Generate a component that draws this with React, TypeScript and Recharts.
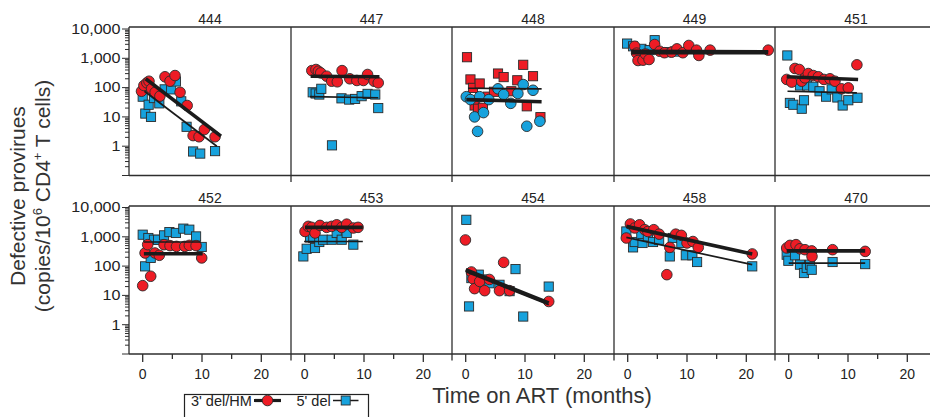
import React from 'react';
import { ScatterChart, Scatter, XAxis, YAxis, ReferenceLine } from 'recharts';

type Pt = [number, number];

// ---------- categories / labels ----------
const PATIENTS = ['444', '447', '448', '449', '451', '452', '453', '454', '458', '470'];
const SERIES_NAMES = ["3' del/HM", "5' del"];
const X_TICKS = [0, 5, 10, 15, 20];
const X_TICK_LABELS = [0, 10, 20];
const Y_TICKS = [
  0.1, 0.2, 0.3, 0.4, 0.5, 0.6, 0.7, 0.8, 0.9,
  1, 2, 3, 4, 5, 6, 7, 8, 9,
  10, 20, 30, 40, 50, 60, 70, 80, 90,
  100, 200, 300, 400, 500, 600, 700, 800, 900,
  1000, 2000, 3000, 4000, 5000, 6000, 7000, 8000, 9000,
  10000,
];
const Y_MAJOR = [0.1, 1, 10, 100, 1000, 10000];
const Y_TICK_LABELS: Record<string, string> = { '1': '1', '10': '10', '100': '100', '1000': '1,000', '10000': '10,000' };

// ---------- data: [months on ART, copies/10^6 CD4+ T cells] ----------
const del3_444: Pt[] = [[-0.2, 75], [0.2, 118], [0.7, 145], [1.06, 165], [1.5, 91], [2.1, 69], [2.9, 51], [3.76, 234], [4.6, 165], [5.45, 258], [6.3, 69], [7.5, 24.5], [8.5, 2.3], [9.5, 2.1], [10.4, 3.7], [12.2, 2.1]];
const del5_444: Pt[] = [[0, 49], [0.44, 13], [1.0, 26], [1.4, 10], [1.9, 44], [2.8, 29], [3.7, 87], [4.8, 87], [5.6, 162], [6.5, 34], [7.4, 4.6], [8.5, 0.66], [9.7, 0.56], [12.2, 0.68]];
const fit3_444: Pt[] = [[0.5, 200], [13.2, 2.2]];
const fit5_444: Pt[] = [[0.3, 75], [12.5, 1.0]];

const del3_447: Pt[] = [[1.2, 380], [1.9, 415], [2.3, 363], [2.7, 318], [3.7, 245], [4.55, 165], [5.5, 158], [6.3, 380], [7.6, 200], [8.8, 175], [9.9, 175], [10.6, 280], [11.7, 165], [12.4, 145]];
const del5_447: Pt[] = [[1.35, 69], [1.85, 63], [2.46, 58], [2.8, 91], [4.6, 1.07], [6.2, 43], [7.5, 39], [8.5, 41], [9.6, 51], [10.6, 61], [11.9, 58], [12.4, 20]];
const fit3_447: Pt[] = [[1.0, 245], [12.6, 234]];
const fit5_447: Pt[] = [[0.9, 49], [12.4, 45]];

const del3_448: Pt[] = [[0.1, 49], [0.8, 39], [1.5, 10], [2.0, 3.2], [2.36, 49], [3.0, 14], [3.9, 39], [5.45, 91], [6.4, 58], [7.6, 29], [8.8, 63], [9.7, 127], [10.3, 4.8], [11.35, 81], [12.5, 7.1]];
const del5_448: Pt[] = [[0.22, 1090], [0.8, 190], [1.23, 98], [2.36, 138], [1.5, 24.5], [2.07, 19], [2.9, 20.5], [3.76, 49], [4.77, 72], [5.45, 302], [6.4, 228], [7.7, 75], [8.7, 178], [9.7, 600], [10.3, 23], [11.35, 245], [12.6, 9.8]];
const fit3_448: Pt[] = [[0.1, 39], [12.8, 33]];
const fit5_448: Pt[] = [[0.4, 95], [12.8, 91]];

const del3_449: Pt[] = [[1.18, 2580], [1.5, 1500], [1.74, 840], [2.58, 865], [3.0, 1400], [3.6, 910], [4.55, 2950], [5.4, 1740], [6.2, 1550], [7.4, 1620], [8.3, 2100], [9.3, 1550], [10.3, 2740], [11.6, 1900], [12.0, 1250], [13.9, 1900], [23.7, 1900]];
const del5_449: Pt[] = [[-0.1, 3180], [0.9, 2570], [2.3, 2100], [3.7, 1900], [4.55, 4150], [6.5, 1620], [8.0, 1700]];
const fit3_449: Pt[] = [[0.6, 1550], [23.7, 1550]];
const fit5_449: Pt[] = [[0.6, 1850], [23.7, 1800]];

const del3_451: Pt[] = [[-0.34, 190], [0.5, 154], [1.06, 450], [1.79, 415], [2.2, 165], [2.75, 215], [3.3, 302], [4.15, 258], [5.0, 234], [5.95, 190], [6.96, 200], [7.8, 165], [8.9, 91], [10.05, 98], [11.5, 600]];
const del5_451: Pt[] = [[-0.23, 1250], [0.2, 30], [0.78, 26], [1.9, 118], [2.2, 19], [2.58, 37], [3.1, 118], [4.15, 107], [5.2, 75], [6.3, 49], [7.25, 87], [8.2, 46], [9.1, 24.5], [10.05, 37], [11.6, 45]];
const fit3_451: Pt[] = [[-0.34, 234], [11.7, 190]];
const fit5_451: Pt[] = [[-0.2, 75], [11.5, 66]];

const del3_452: Pt[] = [[0, 21.5], [0.4, 280], [0.84, 540], [1.35, 45], [2.07, 280], [2.8, 234], [3.6, 540], [4.6, 500], [5.7, 470], [7.1, 470], [7.86, 510], [9.0, 500], [9.95, 190]];
const del5_452: Pt[] = [[0, 1180], [0.4, 98], [0.95, 910], [1.35, 190], [1.9, 795], [2.6, 795], [3.6, 1120], [4.5, 1450], [5.6, 1350], [6.85, 1900], [7.86, 1750], [9.0, 1030], [9.95, 450]];
const fit3_452: Pt[] = [[0.2, 265], [10.1, 265]];
const fit5_452: Pt[] = [[0.2, 665], [9.8, 665]];

const del3_453: Pt[] = [[0.05, 1520], [0.6, 2270], [1.18, 2100], [1.74, 1350], [2.58, 2450], [3.7, 2100], [4.55, 2270], [5.4, 2570], [6.24, 2100], [7.08, 2700], [8.2, 2000], [9.0, 2100]];
const del5_453: Pt[] = [[-0.23, 214], [0.33, 390], [0.9, 950], [1.45, 910], [1.74, 415], [2.46, 665], [3.1, 795], [4.55, 795], [5.4, 1350], [6.24, 795], [7.08, 1350], [8.2, 540]];
const fit3_453: Pt[] = [[0.05, 2100], [9.8, 2100]];
const fit5_453: Pt[] = [[-0.1, 690], [9.8, 690]];

const del3_454: Pt[] = [[-0.05, 780], [0.96, 63], [1.23, 37], [1.5, 17], [2.36, 30], [3.2, 14.5], [4.0, 35], [5.7, 14.5], [6.4, 134], [7.4, 14.5], [14.0, 6.2]];
const del5_454: Pt[] = [[0.1, 3800], [0.56, 4.2], [0.96, 39], [2.2, 51], [2.9, 35], [4.0, 26], [5.7, 23], [7.4, 14], [8.4, 79], [9.7, 1.9], [14.0, 20]];
const fit3_454: Pt[] = [[0, 75], [14, 5.5]];
const fit5_454: Pt[] = [[0.1, 63], [14, 4.8]];

const del3_458: Pt[] = [[-0.23, 910], [0.45, 2740], [1.18, 2000], [2.0, 2570], [2.87, 1750], [3.4, 1520], [4.4, 1750], [5.3, 1230], [6.6, 51], [7.1, 435], [8.1, 1230], [9.05, 1120], [10.0, 615], [11.0, 690], [11.9, 435], [21.0, 260]];
const del5_458: Pt[] = [[-0.23, 1520], [0.9, 435], [1.18, 665], [2.3, 1180], [2.5, 615], [3.4, 1030], [4.27, 665], [5.3, 795], [7.1, 214], [7.6, 910], [9.05, 615], [9.8, 234], [10.9, 234], [11.7, 138], [21.0, 98]];
const fit3_458: Pt[] = [[-0.23, 2270], [21, 260]];
const fit5_458: Pt[] = [[-0.23, 950], [21, 112]];

const del3_470: Pt[] = [[-0.34, 415], [0.22, 510], [1.23, 540], [1.9, 390], [2.75, 363], [3.88, 330], [3.93, 214], [7.4, 363], [12.9, 318]];
const del5_470: Pt[] = [[-0.34, 245], [-0.06, 152], [1.06, 234], [1.9, 112], [2.58, 58], [3.04, 87], [3.6, 112], [3.88, 75], [7.4, 138], [12.9, 117]];
const fit3_470: Pt[] = [[-0.34, 330], [12.9, 330]];
const fit5_470: Pt[] = [[0, 127], [12.9, 127]];

// panel 448 is drawn with the colours exchanged
const COLOR_SWAPPED = ['448'];

const PANELS = [
  { id: PATIENTS[0], del3: del3_444, del5: del5_444, fit3: fit3_444, fit5: fit5_444 },
  { id: PATIENTS[1], del3: del3_447, del5: del5_447, fit3: fit3_447, fit5: fit5_447 },
  { id: PATIENTS[2], del3: del3_448, del5: del5_448, fit3: fit3_448, fit5: fit5_448 },
  { id: PATIENTS[3], del3: del3_449, del5: del5_449, fit3: fit3_449, fit5: fit5_449 },
  { id: PATIENTS[4], del3: del3_451, del5: del5_451, fit3: fit3_451, fit5: fit5_451 },
  { id: PATIENTS[5], del3: del3_452, del5: del5_452, fit3: fit3_452, fit5: fit5_452 },
  { id: PATIENTS[6], del3: del3_453, del5: del5_453, fit3: fit3_453, fit5: fit5_453 },
  { id: PATIENTS[7], del3: del3_454, del5: del5_454, fit3: fit3_454, fit5: fit5_454 },
  { id: PATIENTS[8], del3: del3_458, del5: del5_458, fit3: fit3_458, fit5: fit5_458 },
  { id: PATIENTS[9], del3: del3_470, del5: del5_470, fit3: fit3_470, fit5: fit5_470 },
];

// ---------- styling / layout ----------
const RED = '#ee1c25';
const BLUE = '#17a2dd';
const EDGE = '#2b2b2b';
const AX = '#2e2e2e';
const LINE = '#1b1b1b';
const FONT = '"Liberation Sans", Arial, Helvetica, sans-serif';

const COL_LEFT = [129, 291, 452, 614, 775];
const COL_W = [162, 161, 162, 161, 162];
const ROW_TOP = [27, 206];
const ROW_H = [148.5, 148];
const PX_PER_MONTH = 5.93;
const X_ZERO_OFFSET = 13.7;
const PX_PER_DECADE = 29.3;
const Y_MIN = 0.1;

const toObj = (a: Pt[]) => a.map(([x, y]) => ({ x, y }));

const makeShape = (kind: 'circle' | 'square', color: string) => (props: any) => {
  const { cx, cy } = props;
  if (cx == null || cy == null || isNaN(cx) || isNaN(cy)) return <g />;
  if (kind === 'circle') {
    return <circle cx={cx} cy={cy} r={5.3} fill={color} stroke={EDGE} strokeWidth={0.9} />;
  }
  return <rect x={cx - 4.6} y={cy - 4.6} width={9.2} height={9.2} fill={color} stroke={EDGE} strokeWidth={0.9} />;
};
const noShape = () => <g />;

const YTick = (props: any) => {
  const { x, y, payload } = props;
  const v = payload.value;
  const major = Y_MAJOR.some((m) => Math.abs(m - v) < 1e-9);
  const label = major ? Y_TICK_LABELS[String(v)] : undefined;
  return (
    <g>
      <line x1={x - (major ? 7 : 4)} x2={x} y1={y} y2={y} stroke={AX} strokeWidth={1} />
      {label && (
        <text
          transform={`translate(${x - 8.5},${y + 4.8}) scale(1.15,1)`}
          textAnchor="end"
          fontSize={14}
          fontFamily={FONT}
          fill="#222"
        >
          {label}
        </text>
      )}
    </g>
  );
};

const XTick = (props: any) => {
  const { x, y, payload } = props;
  const v = payload.value;
  const major = X_TICK_LABELS.includes(v);
  return (
    <g>
      <line x1={x} x2={x} y1={y} y2={y + (major ? 8 : 5)} stroke={AX} strokeWidth={1.3} />
      {major && (
        <text x={x} y={y + 24.5} textAnchor="middle" fontSize={14} fontFamily={FONT} fill="#222">
          {v}
        </text>
      )}
    </g>
  );
};

function Panel({ p, col, row }: { p: (typeof PANELS)[number]; col: number; row: number }) {
  const PL = COL_LEFT[col];
  const PW = COL_W[col];
  const PT = ROW_TOP[row];
  const PH = ROW_H[row];
  const xMin = -X_ZERO_OFFSET / PX_PER_MONTH;
  const xMax = xMin + PW / PX_PER_MONTH;
  const yMax = Y_MIN * Math.pow(10, PH / PX_PER_DECADE);
  const ML = 70, MR = 4, MT = 16, MB = 40;
  const first = col === 0;
  const bottom = row === 1;
  const swapped = COLOR_SWAPPED.includes(p.id);
  const c3 = swapped ? BLUE : RED;
  const c5 = swapped ? RED : BLUE;
  const ext = Y_MIN * Math.pow(10, -6.5 / PX_PER_DECADE);
  const frame = { stroke: AX, strokeWidth: 1.3, ifOverflow: 'visible' as const };
  return (
    <div style={{ position: 'absolute', left: PL - ML, top: PT - MT }}>
      <ScatterChart
        width={ML + PW + MR}
        height={MT + PH + MB}
        margin={{ top: MT, right: MR, left: first ? 0 : ML, bottom: bottom ? 0 : MB }}
      >
        <XAxis
          type="number"
          dataKey="x"
          domain={[xMin, xMax]}
          allowDataOverflow
          ticks={X_TICKS}
          interval={0}
          height={bottom ? MB : 0}
          axisLine={false}
          tickLine={false}
          tickSize={0}
          tickMargin={0}
          tick={bottom ? (tp: any) => <XTick {...tp} /> : false}
        />
        <YAxis
          type="number"
          dataKey="y"
          scale="log"
          domain={[Y_MIN, yMax]}
          allowDataOverflow
          ticks={Y_TICKS}
          interval={0}
          width={first ? ML : 0}
          axisLine={false}
          tickLine={false}
          tickSize={0}
          tickMargin={0}
          tick={first ? (tp: any) => <YTick {...tp} /> : false}
        />
        <ReferenceLine segment={[{ x: xMin, y: yMax }, { x: xMax, y: yMax }]} {...frame} />
        <ReferenceLine segment={[{ x: xMin, y: Y_MIN }, { x: xMax, y: Y_MIN }]} {...frame} />
        <ReferenceLine segment={[{ x: xMin, y: yMax }, { x: xMin, y: first ? Y_MIN : ext }]} {...frame} />
        <Scatter name={SERIES_NAMES[1]} data={toObj(p.del5)} shape={makeShape('square', c5)} isAnimationActive={false} />
        <Scatter name={SERIES_NAMES[0]} data={toObj(p.del3)} shape={makeShape('circle', c3)} isAnimationActive={false} />
        <Scatter data={toObj(p.fit5)} line={{ stroke: LINE, strokeWidth: 1.7 }} shape={noShape} isAnimationActive={false} />
        <Scatter data={toObj(p.fit3)} line={{ stroke: LINE, strokeWidth: 3.6 }} shape={noShape} isAnimationActive={false} />
      </ScatterChart>
    </div>
  );
}

export default function App() {
  return (
    <div
      style={{
        position: 'absolute',
        left: 0,
        top: 0,
        width: 930,
        height: 417,
        overflow: 'hidden',
        background: '#fff',
        fontFamily: FONT,
      }}
    >
      {PANELS.map((p, i) => (
        <Panel key={p.id} p={p} col={i % 5} row={Math.floor(i / 5)} />
      ))}
      <svg
        width={930}
        height={417}
        style={{ position: 'absolute', left: 0, top: 0, pointerEvents: 'none' }}
      >
        {PANELS.map((p, i) => {
          const col = i % 5;
          const row = Math.floor(i / 5);
          return (
            <text
              key={p.id}
              x={COL_LEFT[col] + COL_W[col] / 2}
              y={row === 0 ? 23.5 : 202.5}
              textAnchor="middle"
              fontSize={14}
              fontFamily={FONT}
              fill="#222"
            >
              {p.id}
            </text>
          );
        })}
        <text transform="translate(25,196) rotate(-90)" textAnchor="middle" fontSize={21} fontFamily={FONT} fill="#333">
          Defective provirues
        </text>
        <text transform="translate(50,196) rotate(-90)" textAnchor="middle" fontSize={21} fontFamily={FONT} fill="#333">
          (copies/10<tspan dy={-8} fontSize={13}>6</tspan>
          <tspan dy={8}> CD4</tspan>
          <tspan dy={-8} fontSize={13}>+</tspan>
          <tspan dy={8}> T cells)</tspan>
        </text>
        <text x={542} y={403} textAnchor="middle" fontSize={22} fontFamily={FONT} fill="#333">
          Time on ART (months)
        </text>
        {/* legend */}
        <rect x={184.5} y={394.5} width={184} height={40} fill="none" stroke="#222" strokeWidth={1.2} />
        <text x={191} y={405.5} fontSize={14.5} fontFamily={FONT} fill="#222">
          {SERIES_NAMES[0]}
        </text>
        <line x1={254} x2={281} y1={400.5} y2={400.5} stroke={LINE} strokeWidth={3.2} />
        <circle cx={267.5} cy={400.5} r={5.3} fill={RED} stroke={EDGE} strokeWidth={0.9} />
        <text x={296.5} y={405.5} fontSize={14.5} fontFamily={FONT} fill="#222">
          {SERIES_NAMES[1]}
        </text>
        <line x1={333} x2={358.5} y1={400.5} y2={400.5} stroke={LINE} strokeWidth={1.5} />
        <rect x={341.2} y={396} width={9} height={9} fill={BLUE} stroke={EDGE} strokeWidth={0.9} />
      </svg>
    </div>
  );
}
